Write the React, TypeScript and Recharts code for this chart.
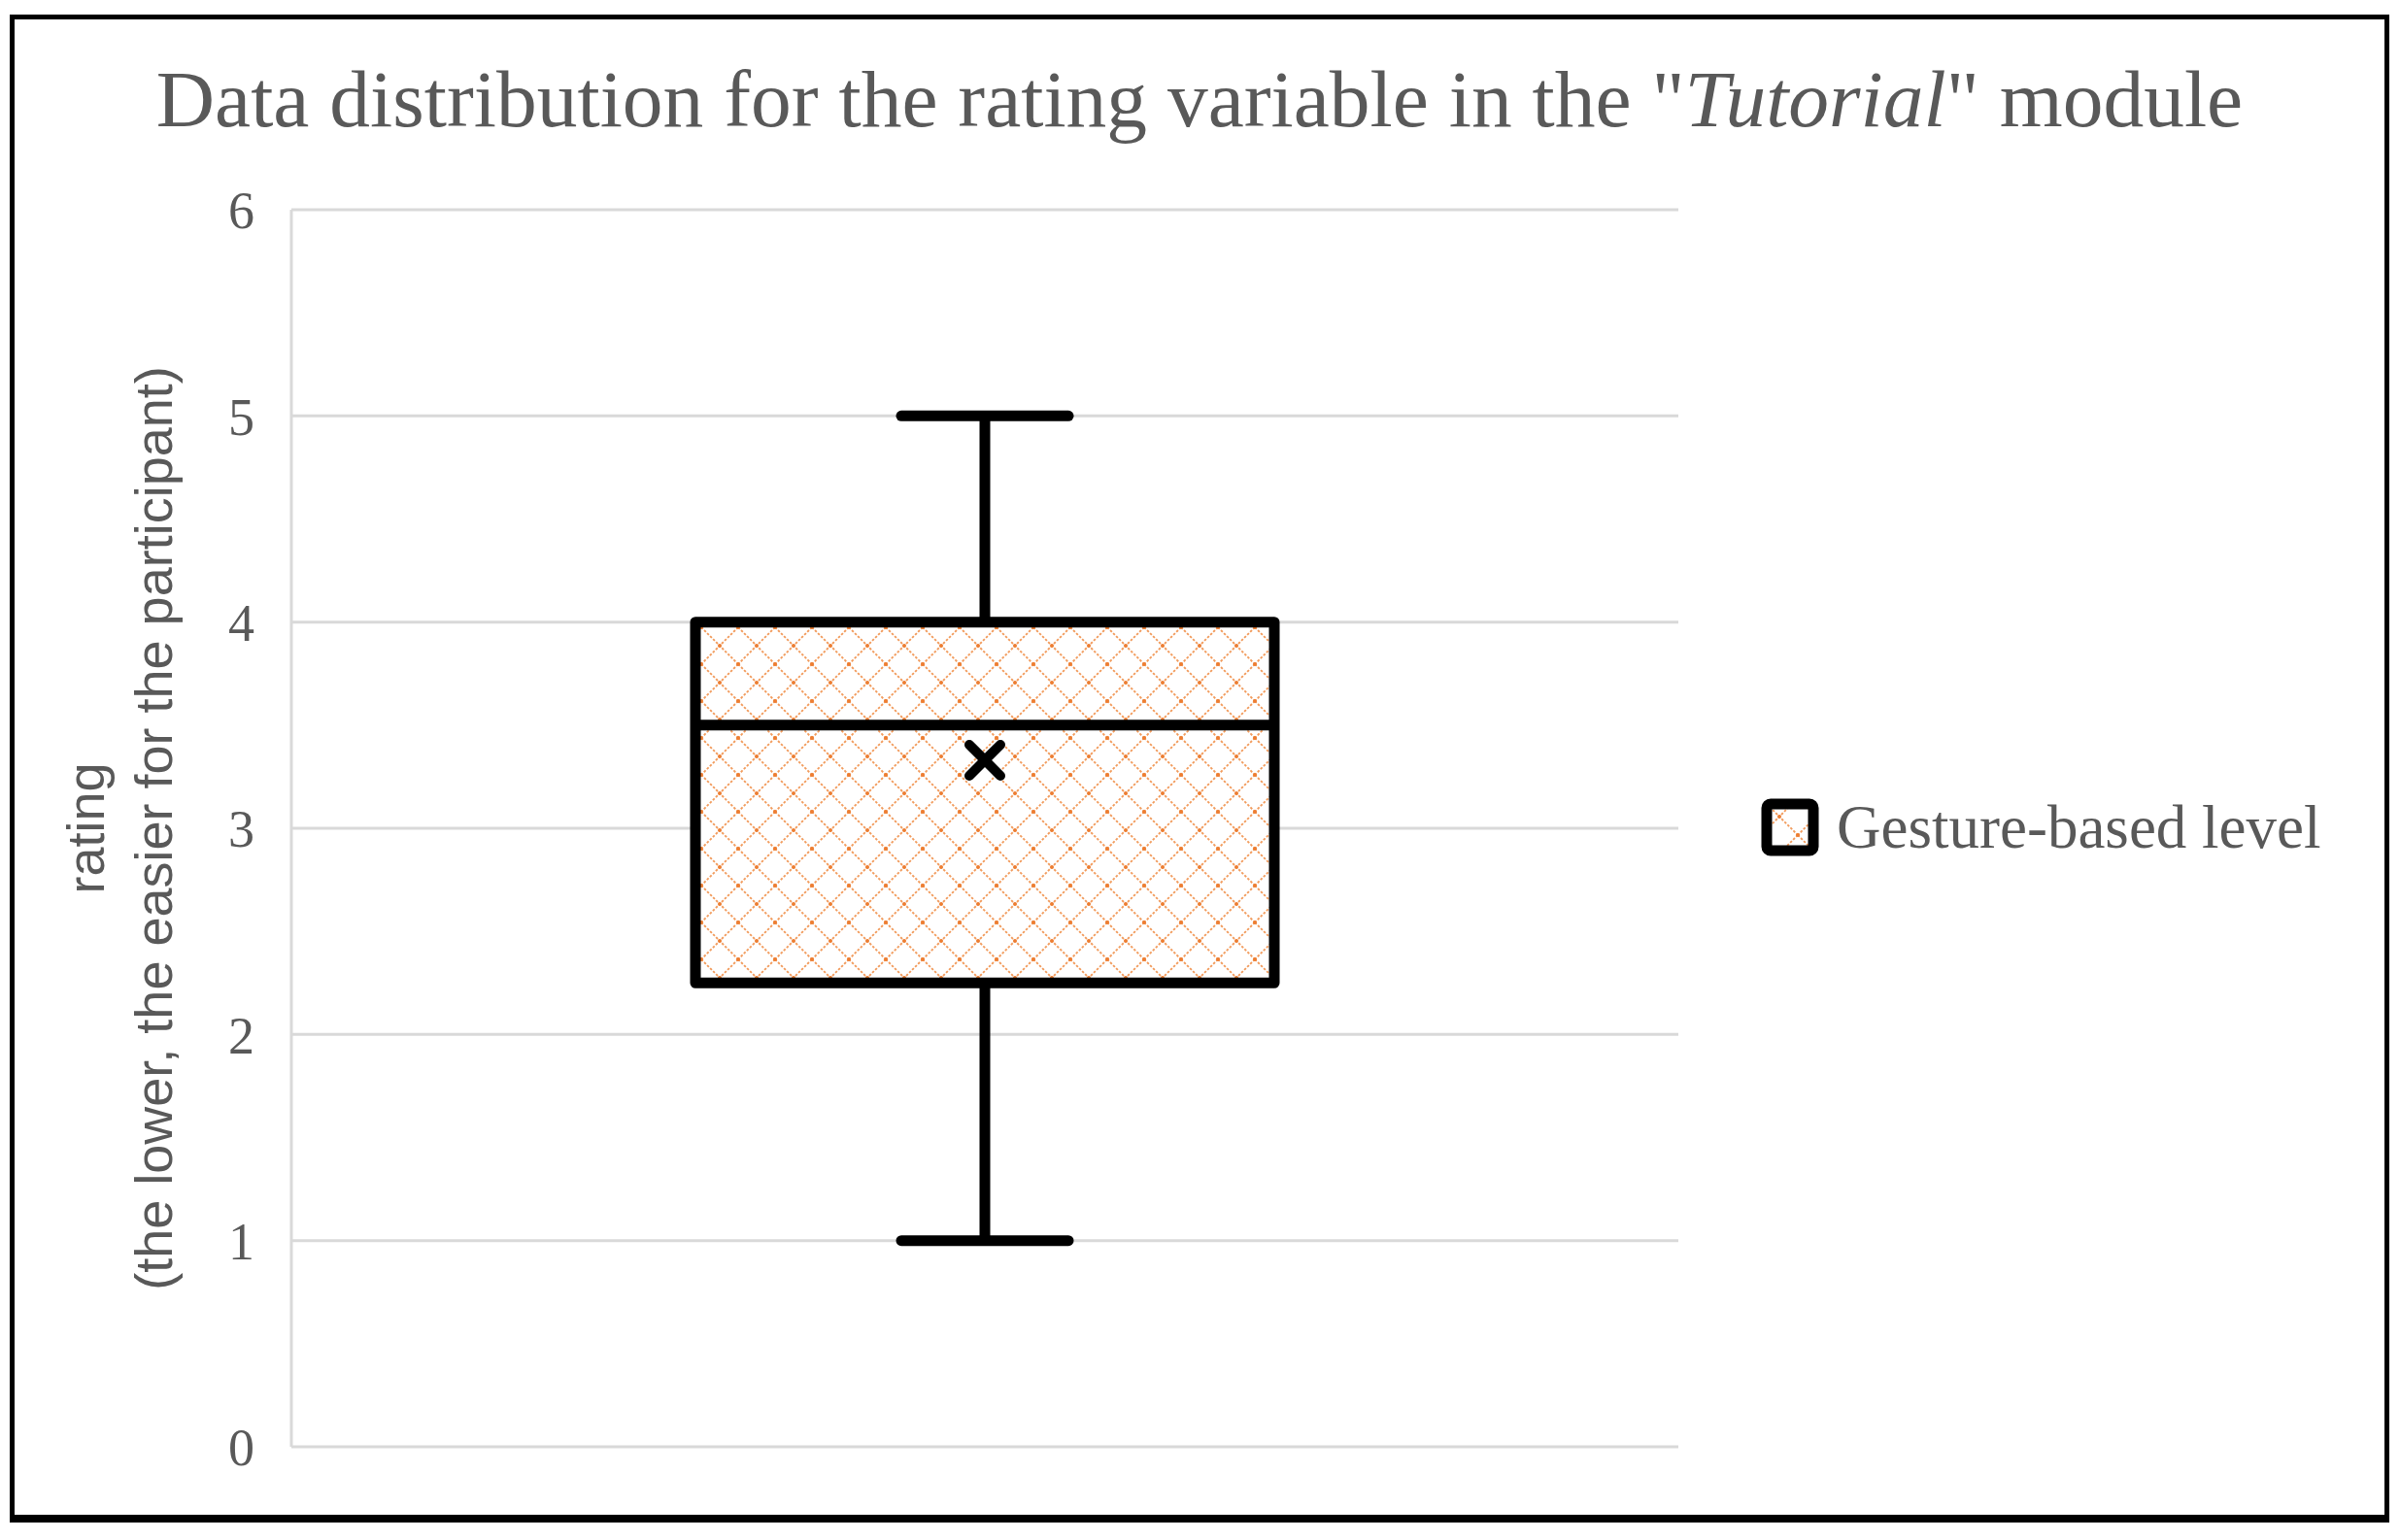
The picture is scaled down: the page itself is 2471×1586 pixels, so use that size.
import React from 'react';
import { ComposedChart, Bar, Scatter, XAxis, YAxis, CartesianGrid, Legend } from 'recharts';

// box plot summary
const categories = ['Gesture-based level'];
const minValues = [1];
const q1Values = [2.25];
const medianValues = [3.5];
const q3Values = [4];
const maxValues = [5];
const meanValues = [3.33];
const yTicks = [0, 1, 2, 3, 4, 5, 6];

const data = categories.map((name, i) => ({
  name,
  min: minValues[i],
  q1: q1Values[i],
  median: medianValues[i],
  q3: q3Values[i],
  max: maxValues[i],
  mean: meanValues[i],
}));

const TEXT_GREY = '#595959';
const GRID_GREY = '#d9d9d9';
const SERIF = '"Liberation Serif", "DejaVu Serif", serif';
const SANS = '"Liberation Sans", Arial, sans-serif';

const PatternDef = ({ id }: { id: string }) => (
  <pattern id={id} width={38} height={38} patternUnits="userSpaceOnUse">
    <rect width={38} height={38} fill="#ffffff" />
    <path d="M0 0 L38 38 M38 0 L0 38" stroke="#F29B5C" strokeWidth={1.9} strokeDasharray="2.5 1.8" />
    <circle cx={19} cy={19} r={2} fill="#ED7D31" />
    <circle cx={0} cy={0} r={2} fill="#ED7D31" />
    <circle cx={38} cy={0} r={2} fill="#ED7D31" />
    <circle cx={0} cy={38} r={2} fill="#ED7D31" />
    <circle cx={38} cy={38} r={2} fill="#ED7D31" />
  </pattern>
);

// whiskers + box + median, positions come from the bar's [min, max] range
const BoxShape = (props: any) => {
  const { x, y, width, height, payload } = props;
  const { min, q1, median, q3, max } = payload;
  const top = Math.min(y, y + height);
  const h = Math.abs(height);
  const yOf = (v: number) => top + ((max - v) / (max - min)) * h;
  const cx = x + width / 2;
  const capHalf = 86;
  const sw = 11;
  return (
    <g>
      <line x1={cx} x2={cx} y1={yOf(max)} y2={yOf(q3)} stroke="#000" strokeWidth={sw} />
      <line x1={cx} x2={cx} y1={yOf(q1)} y2={yOf(min)} stroke="#000" strokeWidth={sw} />
      <line x1={cx - capHalf} x2={cx + capHalf} y1={yOf(max)} y2={yOf(max)} stroke="#000" strokeWidth={sw} strokeLinecap="round" />
      <line x1={cx - capHalf} x2={cx + capHalf} y1={yOf(min)} y2={yOf(min)} stroke="#000" strokeWidth={sw} strokeLinecap="round" />
      <rect
        x={x}
        y={yOf(q3)}
        width={width}
        height={yOf(q1) - yOf(q3)}
        fill="url(#boxPattern)"
        stroke="#000"
        strokeWidth={sw}
        strokeLinejoin="round"
      />
      <line x1={x} x2={x + width} y1={yOf(median)} y2={yOf(median)} stroke="#000" strokeWidth={sw} />
    </g>
  );
};

const MeanMarker = (props: any) => {
  const { cx, cy } = props;
  if (cx == null || cy == null) return null;
  const s = 16;
  return (
    <path
      d={`M${cx - s} ${cy - s} L${cx + s} ${cy + s} M${cx + s} ${cy - s} L${cx - s} ${cy + s}`}
      stroke="#000"
      strokeWidth={10}
      strokeLinecap="round"
    />
  );
};

const YLabel = (props: any) => {
  const { viewBox } = props;
  const cy = viewBox.y + viewBox.height / 2;
  const x1 = viewBox.x - 92;
  const x2 = viewBox.x - 22;
  return (
    <g fill={TEXT_GREY} fontFamily={SANS} fontSize={54}>
      <text x={x1} y={cy} textAnchor="middle" dominantBaseline="central" transform={`rotate(-90 ${x1} ${cy})`}>
        rating
      </text>
      <text x={x2} y={cy} textAnchor="middle" dominantBaseline="central" transform={`rotate(-90 ${x2} ${cy})`}>
        (the lower, the easier for the participant)
      </text>
    </g>
  );
};

const renderLegend = () => (
  <div style={{ display: 'flex', alignItems: 'center', whiteSpace: 'nowrap' }}>
    <svg width={60} height={60}>
      <defs>
        <PatternDef id="legendPattern" />
      </defs>
      <rect x={6} y={6} width={48} height={48} rx={4} fill="url(#legendPattern)" stroke="#000" strokeWidth={11} />
    </svg>
    <span style={{ marginLeft: 18, fontFamily: SERIF, fontSize: 63, color: TEXT_GREY, lineHeight: '60px' }}>
      Gesture-based level
    </span>
  </div>
);

export default function App() {
  return (
    <div style={{ position: 'absolute', left: 0, top: 0, width: 2471, height: 1586, background: '#fff' }}>
      <div
        style={{
          position: 'absolute',
          left: 10,
          top: 15,
          width: 2450,
          height: 1553,
          border: '5px solid #000',
          borderBottomWidth: 8,
          boxSizing: 'border-box',
        }}
      />
      <svg style={{ position: 'absolute', left: 0, top: 0 }} width={2471} height={160}>
        <text x={1235} y={130} textAnchor="middle" fill={TEXT_GREY} fontFamily={SERIF} fontSize={83.5}>
          Data distribution for the rating variable in the "<tspan fontStyle="italic">Tutorial</tspan>" module
        </text>
      </svg>
      <div style={{ position: 'absolute', left: 0, top: 0 }}>
        <ComposedChart
          width={2471}
          height={1586}
          data={data}
          margin={{ top: 216, right: 743, bottom: 96, left: 180 }}
        >
          <defs>
            <PatternDef id="boxPattern" />
          </defs>
          <CartesianGrid vertical={false} stroke={GRID_GREY} strokeWidth={3} />
          <XAxis dataKey="name" type="category" hide height={0} />
          <YAxis
            type="number"
            domain={[0, 6]}
            ticks={yTicks}
            width={120}
            interval={0}
            tickLine={false}
            tickSize={0}
            tickMargin={38}
            axisLine={{ stroke: GRID_GREY, strokeWidth: 3 }}
            tick={{ fill: TEXT_GREY, fontSize: 54, fontFamily: SERIF }}
            label={<YLabel />}
          />
          <Bar
            dataKey={(d: any) => [d.min, d.max]}
            name="Gesture-based level"
            barSize={596}
            shape={<BoxShape />}
            isAnimationActive={false}
          />
          <Scatter dataKey="mean" shape={<MeanMarker />} isAnimationActive={false} legendType="none" />
          <Legend
            layout="horizontal"
            verticalAlign="middle"
            align="center"
            content={renderLegend}
            wrapperStyle={{ left: 1813, top: 822, width: 640, height: 60 }}
          />
        </ComposedChart>
      </div>
    </div>
  );
}
